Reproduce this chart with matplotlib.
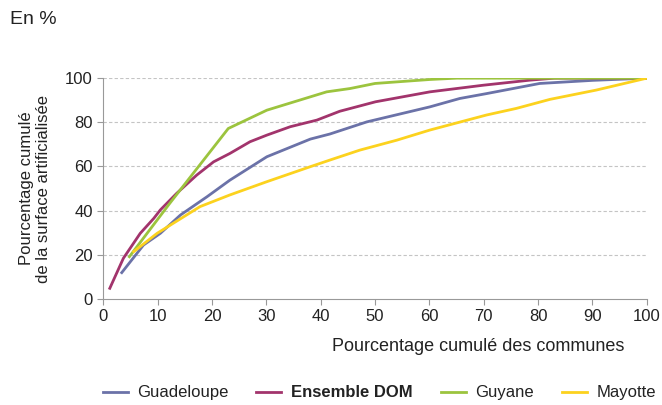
import matplotlib.pyplot as plt

plt.rcParams['font.family'] = ['Liberation Sans', 'DejaVu Sans']

# Guadeloupe
gua_x = [3.4, 7.4, 10.5, 14.2, 19.1, 23.3, 30.1, 38.1, 41.7, 48.5, 60.1, 65.6, 70.5, 80.3, 90, 100]
gua_y = [11.9, 24.4, 29.7, 38.0, 46.3, 53.8, 64.4, 72.4, 74.7, 80.2, 87.0, 90.8, 93.0, 97.6, 99.0, 100]

# Ensemble DOM
dom_x = [1.2, 3.7, 6.8, 9.3, 10.5, 13.5, 17.2, 20.3, 23.3, 27.0, 30.1, 34.4, 39.3, 43.5, 50.1, 60.1, 69.9, 78.5, 83, 100]
dom_y = [4.8, 18.4, 29.7, 36.5, 40.3, 47.8, 56.1, 62.1, 65.9, 71.2, 74.2, 78.0, 81.0, 85.0, 89.3, 93.8, 96.8, 99.1, 100, 100]

# Guyane
guy_x = [4.8, 12.3, 23.0, 30.1, 41.1, 45.4, 50.0, 60.1, 65, 100]
guy_y = [19.1, 43.5, 77.2, 85.5, 93.8, 95.3, 97.6, 99.4, 100, 100]

# Mayotte
may_x = [5.6, 9.9, 17.8, 23.3, 30.1, 38.1, 41.7, 47.2, 54.0, 60.1, 70.5, 76.0, 82.2, 90.7, 100]
may_y = [21.4, 29.7, 41.8, 47.1, 53.1, 59.9, 62.9, 67.4, 71.9, 76.5, 83.3, 86.3, 90.4, 94.6, 100]

fig = plt.figure(figsize=(6.62, 4.05), dpi=100)
ax = fig.add_axes([0.156, 0.262, 0.821, 0.545])

ax.plot(gua_x, gua_y, color='#6b72a8', lw=2, label='Guadeloupe')
ax.plot(dom_x, dom_y, color='#a2346c', lw=2, label='Ensemble DOM')
ax.plot(guy_x, guy_y, color='#9cc43e', lw=2, label='Guyane')
ax.plot(may_x, may_y, color='#fcd21e', lw=2, label='Mayotte')

ax.set_xlim(0, 100)
ax.set_ylim(0, 100)
ax.set_xticks(range(0, 101, 10))
ax.set_yticks(range(0, 101, 20))
for v in range(20, 101, 20):
    ax.axhline(v, color='#c4c4c4', lw=0.8, ls=(0, (3, 2)), zorder=0)

for s in ['top', 'right']:
    ax.spines[s].set_visible(False)
for s in ['left', 'bottom']:
    ax.spines[s].set_color('#999999')
ax.tick_params(colors='#999999', labelcolor='#222222', labelsize=12, length=4)

ax.set_ylabel('Pourcentage cumulé\nde la surface artificialisée', fontsize=12, color='#222222', labelpad=10)
ax.set_xlabel('Pourcentage cumulé des communes', fontsize=13, color='#222222', labelpad=10, x=0.69)

fig.text(0.015, 0.94, 'En %', fontsize=14, color='#222222')

leg = fig.legend(loc='center', bbox_to_anchor=(0.573, 0.03), ncol=4, frameon=False,
                 fontsize=12, handlelength=1.5, columnspacing=1.65, handletextpad=0.6)
for t in leg.get_texts():
    t.set_color('#222222')
    if t.get_text() == 'Ensemble DOM':
        t.set_fontweight('bold')

fig.savefig('out.png', dpi=100)
